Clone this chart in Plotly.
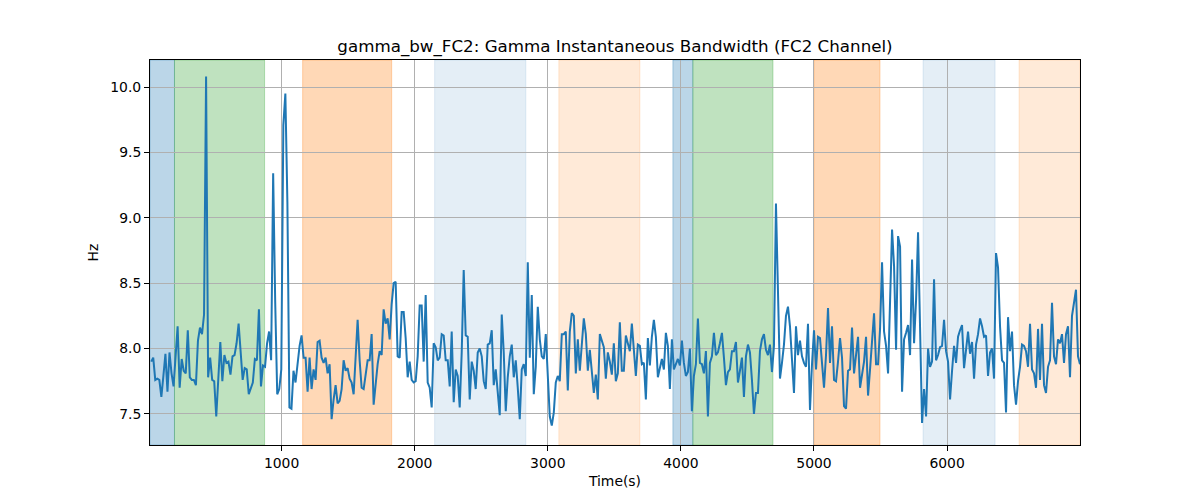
import numpy as np
import plotly.graph_objects as go

# ---- data ----
seg1 = [7.90, 7.93, 7.76, 7.77, 7.76, 7.63, 7.79, 7.96, 7.67, 7.97, 7.81, 7.71, 7.94, 8.17, 7.70, 7.92,
        7.83, 7.81, 8.14, 7.78, 7.76, 7.76, 7.72, 8.06, 8.16, 8.11, 8.26, 10.08, 7.78, 7.93, 7.76, 7.75,
        7.48, 7.76, 8.05, 7.75, 7.95, 7.89, 7.90, 7.80, 7.94, 7.95, 8.04, 8.19, 8.00, 7.76, 7.85, 7.84,
        7.65, 7.69, 7.74, 7.92, 7.91, 8.30, 7.71, 7.87, 7.86, 8.04, 8.13, 7.91, 9.34, 8.36, 7.65, 7.69,
        7.84, 9.71, 9.95, 9.12, 7.55, 7.54, 7.83, 7.74, 7.91, 8.02]
seg2 = [8.10, 7.93, 7.93, 7.67, 7.93, 7.69, 7.84, 7.76, 8.05, 8.06, 7.93, 7.89, 7.93, 7.81, 7.88, 7.46,
        7.61, 7.72, 7.58, 7.60, 7.69, 7.91, 7.83, 7.85, 7.77, 7.74, 7.65, 7.94, 8.22, 7.91, 7.70, 7.69,
        7.81, 7.91, 7.91, 8.11, 7.57, 7.75, 7.88, 7.98, 7.95, 8.30, 8.19, 8.23, 8.07, 8.34, 8.50, 8.51,
        7.94, 7.93, 8.28, 8.28, 8.08, 7.78, 7.90, 7.76, 7.74, 7.75, 7.94, 8.33, 8.33, 7.90, 8.41, 7.74,
        7.70, 7.55, 8.04, 8.01, 7.91, 7.93, 8.11, 8.10, 7.91, 7.91, 7.71]
seg3 = [8.13, 7.59, 7.84, 7.79, 7.55, 7.97, 8.60, 8.10, 8.09, 7.61, 7.90, 7.83, 7.69, 7.97, 8.00, 7.94,
        7.75, 7.69, 8.03, 8.04, 8.14, 7.72, 7.84, 7.69, 7.49, 8.26, 7.97, 7.52, 7.78, 7.94, 8.03, 7.78,
        7.91, 7.70, 7.46, 7.84, 7.88, 7.79, 8.66, 7.93, 8.41, 7.65, 7.86, 8.32, 8.07, 7.94, 7.92, 8.11,
        7.74, 7.48, 7.41, 7.51, 7.74, 7.79, 7.75, 8.11, 8.11, 8.13, 7.68, 8.13, 8.27, 8.25, 7.81, 8.07,
        7.83, 8.01, 8.23, 8.11, 7.83, 7.99, 7.83, 7.66, 7.80, 7.61, 8.11]
seg4 = [8.05, 8.01, 7.77, 7.97, 7.90, 7.80, 8.04, 7.75, 7.81, 8.20, 7.83, 7.83, 8.10, 8.03, 7.98, 8.19,
        7.99, 7.79, 8.03, 8.02, 7.88, 7.89, 7.61, 8.08, 7.87, 8.09, 8.22, 8.09, 7.78, 7.84, 7.92, 7.84,
        8.12, 8.02, 7.69, 8.07, 7.84, 7.88, 7.92, 7.87, 8.06, 7.89, 7.79, 7.82, 8.00, 7.52, 7.79, 7.88,
        8.23, 7.89, 7.88, 7.81, 7.98, 7.48, 7.89, 7.94, 8.12, 7.95, 7.97, 8.04, 8.12, 7.93, 7.72, 7.82,
        7.84, 7.98, 7.98, 8.05, 7.74, 7.83, 7.93, 7.63, 7.94, 8.03, 7.97]
seg5 = [7.76, 7.50, 7.66, 7.66, 7.98, 8.07, 8.11, 7.99, 7.95, 8.03, 7.82, 8.02, 9.11, 8.31, 7.77, 7.89,
        8.03, 8.25, 8.32, 8.17, 7.93, 7.66, 8.17, 7.95, 8.06, 7.94, 7.89, 7.86, 8.19, 7.53, 7.88, 8.14,
        7.84, 8.09, 8.08, 7.88, 7.70, 7.95, 8.31, 7.89, 8.17, 7.76, 7.75, 7.90, 8.08, 7.93, 7.56, 7.54,
        7.83, 7.84, 8.16, 7.81, 7.93, 8.09, 7.70, 7.81, 7.90, 8.09, 7.64, 7.84, 8.08, 8.27, 7.88, 7.88,
        8.15, 8.66, 8.13, 8.02, 7.81, 8.31, 8.91, 8.63, 7.99, 8.86, 8.78]
seg6 = [7.67, 8.07, 8.12, 8.18, 7.95, 8.68, 8.04, 8.37, 8.89, 8.17, 7.43, 7.69, 7.48, 8.00, 7.86, 7.90,
        8.53, 7.91, 7.95, 8.01, 8.02, 8.22, 7.98, 7.90, 7.61, 7.83, 8.02, 7.89, 8.09, 8.14, 8.18, 7.85,
        8.00, 8.13, 7.96, 8.05, 7.77, 8.03, 8.11, 8.23, 8.17, 8.09, 8.10, 7.79, 7.97, 8.00, 7.77, 8.73,
        8.62, 8.17, 7.91, 7.89, 7.51, 8.24, 7.98, 8.13, 7.72, 7.57, 7.75, 7.86, 8.03, 8.02, 7.98, 7.86,
        8.19, 7.84, 7.81, 7.70, 8.15, 7.76, 8.19, 7.72, 7.66, 7.86, 7.91, 8.35, 7.94, 7.88, 8.07, 8.04,
        8.11, 7.89, 8.11, 8.17, 7.78, 8.25, 8.35, 8.45, 7.94, 7.88]
segments = [seg1, seg2, seg3, seg4, seg5, seg6]
# time span (s) covered by each segment of readings
seg_t0 = [20, 1150, 2278, 3406, 4534, 5662]
seg_t1 = [1135, 2263, 3391, 4519, 5647, 6999]

time_s = np.concatenate([np.linspace(a, b, len(s)) for a, b, s in zip(seg_t0, seg_t1, segments)])
bandwidth_hz = np.concatenate(segments)

x_min, x_max = 11, 6999

# shaded spans: (start, end, colour, alpha)
span_start = [11, 195, 1158, 2150, 3083, 3940, 4090, 5000, 5820, 6541]
span_end = [195, 872, 1827, 2835, 3692, 4090, 4692, 5496, 6361, 6999]
span_color = ["31,119,180", "44,160,44", "255,127,14", "31,119,180", "255,127,14",
              "31,119,180", "44,160,44", "255,127,14", "31,119,180", "255,127,14"]
span_alpha = [0.3, 0.3, 0.3, 0.12, 0.16, 0.3, 0.3, 0.3, 0.12, 0.16]

x_ticks = [1000, 2000, 3000, 4000, 5000, 6000]
y_ticks = [7.5, 8.0, 8.5, 9.0, 9.5, 10.0]

fig = go.Figure()
fig.add_trace(go.Scatter(x=time_s, y=bandwidth_hz, mode="lines",
                         line=dict(color="#1f77b4", width=2), showlegend=False))

for s, e, c, a in zip(span_start, span_end, span_color, span_alpha):
    fig.add_shape(type="rect", xref="x", yref="paper", x0=s, x1=e, y0=0, y1=1,
                  fillcolor=f"rgba({c},{a})", line=dict(color=f"rgba({c},{a})", width=1),
                  layer="below")

font = "DejaVu Sans"
fs = 13.9
fig.update_layout(
    width=1200, height=500,
    margin=dict(l=150, r=120, t=60, b=55),
    plot_bgcolor="white", paper_bgcolor="white",
    font=dict(family=font, size=fs, color="black"),
    title=dict(text="gamma_bw_FC2: Gamma Instantaneous Bandwidth (FC2 Channel)",
               x=615 / 1200, xanchor="center", y=1 - 46 / 500, yanchor="middle",
               yref="container", font=dict(family=font, size=16.7, color="black")),
)
fig.update_xaxes(range=[x_min, x_max], tickvals=x_ticks, ticktext=[str(v) for v in x_ticks],
                 tickfont=dict(size=fs),
                 showgrid=True, gridcolor="#b0b0b0", gridwidth=1,
                 showline=True, mirror=True, linecolor="black", linewidth=1,
                 ticks="outside", ticklen=5, tickcolor="black", zeroline=False,
                 title=dict(text="Time(s)", standoff=6, font=dict(size=fs)))
fig.update_yaxes(range=[7.262, 10.207], tickvals=y_ticks, ticktext=[f"{v:.1f}" for v in y_ticks],
                 tickfont=dict(size=fs),
                 showgrid=True, gridcolor="#b0b0b0", gridwidth=1,
                 showline=True, mirror=True, linecolor="black", linewidth=1,
                 ticks="outside", ticklen=5, tickcolor="black", zeroline=False,
                 title=dict(text="Hz", standoff=8, font=dict(size=fs)))

fig.write_html("out.html")
